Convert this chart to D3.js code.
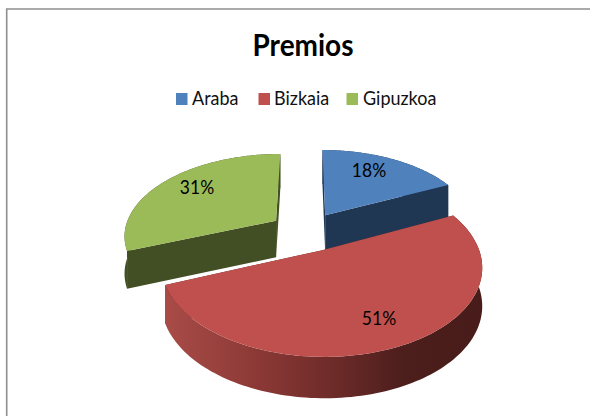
<!DOCTYPE html>
<html><head><meta charset="utf-8">
<script src="https://cdn.jsdelivr.net/npm/d3@7"></script>
<style>html,body{margin:0;padding:0;background:#fff}svg{display:block}text{font-family:Lato,"Open Sans",sans-serif}</style>
</head><body><script>
const categories = ["Araba", "Bizkaia", "Gipuzkoa"];
const values = [18, 51, 31];
const title = "Premios";
const topColors = ["#4F81BD", "#C0504D", "#9BBB59"];
const cutColors = ["#203754", "#5a2321", "#424F24"];

const W = 590, H = 416;
const svg = d3.select("body").append("svg").attr("width", W).attr("height", H);

// frame
svg.append("path").attr("d", "M6.7 416V9H590").attr("fill", "none").attr("stroke", "#8f8f8f").attr("stroke-width", 1.6);

// title and legend (text is slightly stretched vertically, as in the picture)
function stretched(x, y, sy) {
  return svg.append("text").attr("transform", `translate(${x},${y}) scale(1,${sy})`);
}
stretched(303, 56, 1.08).attr("text-anchor", "middle")
  .attr("font-size", 28).attr("font-weight", 700).attr("fill", "#000")
  .text(title);
const legendSwatchX = [176, 258.5, 346.5], legendTextX = [192, 274, 363];
categories.forEach((c, i) => {
  svg.append("rect").attr("x", legendSwatchX[i]).attr("y", 93).attr("width", 11.5).attr("height", 12).attr("fill", topColors[i]);
  stretched(legendTextX[i], 105, 1.08).attr("font-size", 18).attr("fill", "#111").text(c);
});

// 3D projection
const cx = 306, cy = 231.5, R = 152, explode = 37, tilt = 0.535, D = 900, depth = 37;
const pie = d3.pie().sort(null).value(d => d);
const arcs = pie(values);
function P(a, r, e, down) {           // a: pie angle, r: radius, e: slice explosion angle
  const X = explode * Math.sin(e) + r * Math.sin(a);
  const Y = explode * Math.cos(e) + r * Math.cos(a);
  const s = 1 / (1 + Y / D);
  return [cx + X * s, cy - tilt * Y * s + (down ? depth * (0.55 + 0.45 * s) : 0)];
}
const line = d3.line();
const defs = svg.append("defs");
const grad = defs.append("linearGradient").attr("id", "wall").attr("gradientUnits", "userSpaceOnUse")
  .attr("x1", 168).attr("x2", 481).attr("y1", 0).attr("y2", 0);
[[0, "#A84B47"], [0.3, "#8A3835"], [0.55, "#6A2A28"], [0.75, "#4C1E1C"], [1, "#481C1A"]]
  .forEach(([o, c]) => grad.append("stop").attr("offset", o).attr("stop-color", c));

arcs.forEach((d, i) => {
  const e = (d.startAngle + d.endAngle) / 2;
  const g = svg.append("g");
  const as = d3.range(0, 121).map(k => d.startAngle + (d.endAngle - d.startAngle) * k / 120);
  const topArc = as.map(a => P(a, R, e, false));
  const botArc = as.map(a => P(a, R, e, true)).reverse();
  const apexT = P(0, 0, e, false), apexB = P(0, 0, e, true);
  // cut faces
  [d.startAngle, d.endAngle].forEach(a => {
    g.append("path").attr("fill", cutColors[i]).attr("d", line([apexT, P(a, R, e, false), P(a, R, e, true), apexB]) + "Z");
  });
  // outer wall
  g.append("path").attr("fill", i === 1 ? "url(#wall)" : cutColors[i]).attr("d", line(topArc.concat(botArc)) + "Z");
  // top face
  g.append("path").attr("fill", topColors[i]).attr("d", line([apexT].concat(topArc)) + "Z");
});

// data labels
const labelPos = [[369, 177], [379, 325], [197, 194]];
values.forEach((v, i) => {
  stretched(labelPos[i][0], labelPos[i][1], 1.12).attr("text-anchor", "middle")
    .attr("font-size", 17.5).attr("fill", "#000").text(v + "%");
});
</script></body></html>
